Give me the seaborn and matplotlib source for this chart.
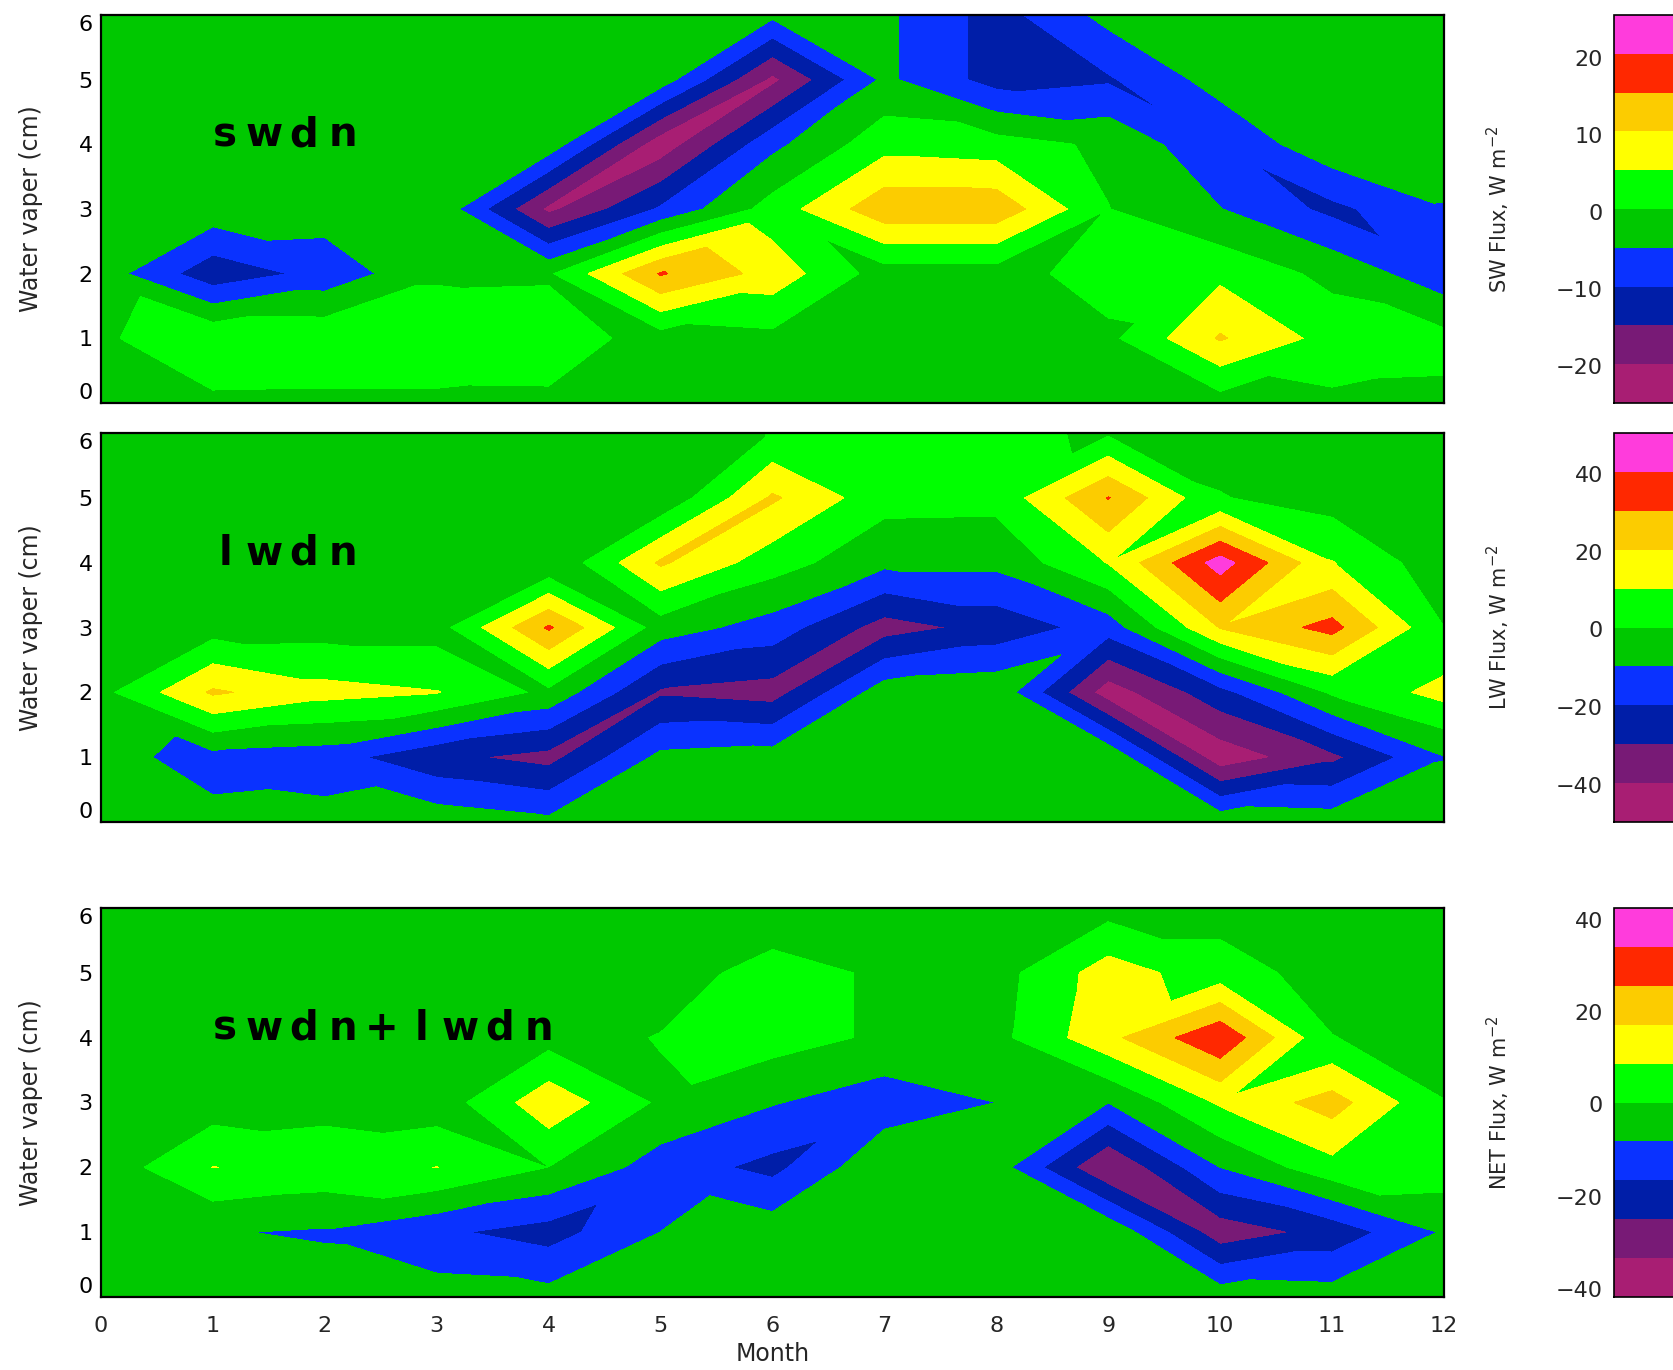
import numpy as np
import matplotlib
matplotlib.use("Agg")
import matplotlib.pyplot as plt
import matplotlib.tri as mtri
import seaborn as sns
from matplotlib.ticker import MultipleLocator

sns.set_style("white")
plt.rcParams["font.family"] = ["DejaVu Sans"]

# grid: month (columns) x column water vapour in cm (rows, bottom to top)
months = np.arange(0, 13)
vapor = np.arange(0, 7)

# shortwave down flux change, W m-2 (rows: vapour 0..6)
swdn_v0 = [-2, -0.7, -0.8, -0.8, -0.7, -2, -2, -2, -2, -2, -1.9, -0.6, -0.8]
swdn_v1 = [-0.5, 4.8, 4.5, 4.5, 3.5, -2, -1, -2, -2, -0.8, 11, 3.5, 2]
swdn_v2 = [-2, -13, -8, -0.5, -0.3, 16, 8.5, -2, -2, 3, 4.2, -1, -8]
swdn_v3 = [-2, -1.5, -2, -0.5, -21, -9, 2.5, 14, 14, 0.5, -4.5, -11, -5]
swdn_v4 = [-2, -2, -2, -2, -1.5, -23, -6, 3.5, 2.5, -0.5, -9, -1, -1.5]
swdn_v5 = [-2, -2, -2, -2, -2, -2, -21, -3.6, -11.8, -10.3, -2.5, -1.5, -1.5]
swdn_v6 = [-2, -2, -2, -2, -2, -2.5, -3.5, -3.6, -11.8, -3, -2, -1.5, -1]

# longwave down flux change, W m-2
lwdn_v0 = [-5, -7, -6, -3, -7, -3, -3, -3, -3, -3, -2.6, -4, -2]
lwdn_v1 = [-6.5, -13, -15, -27, -33, -7, -5, -3, -3, -1, -46, -32, -10]
lwdn_v2 = [-2.5, 22, 14, 11, -2, -31, -34, -4, -2, -45, -23, 2, 14]
lwdn_v3 = [-5, -4.2, -4, -4, 32, -4.5, -14, -34, -26, -15, 21, 34, 0.6]
lwdn_v4 = [-4, -4, -4, -4, -9, 22, 5, -7, -7, 11, 45, 11, -6]
lwdn_v5 = [-4, -4, -4, -4, -4, -8, 22, 4, 3.6, 31, 1, -4, -4]
lwdn_v6 = [-4, -4, -4, -4, -4, -6, 1, 4, 3, -1, -4, -4, -4]

# net (sw + lw) down flux change, W m-2
net_v0 = [-3, -3, -3.5, -4, -5, -3, -3, -3, -3, -3, -3, -4, -3]
net_v1 = [-3, -7.5, -9, -15, -20, -8, -3, -3, -3, -1, -30, -22, -7.1]
net_v2 = [-5, 9.0, 6, 8.95, 0.3, -12, -19, -1, -4, -33.6, -8, 6, 5]
net_v3 = [-3, -4.2, -2.8, -4.7, 14.5, -1, -7.5, -13, -8, -7.9, 10, 21, 0.6]
net_v4 = [-3, -3, -3, -3, -3, 0.8, 4, -1, -2, 15, 33, 0.6, -3]
net_v5 = [-3, -3, -3, -3, -3, -4, 4, -1, -3, 13, 4, -3, -3]
net_v6 = [-3, -3, -3, -3, -3, -3, -6, -3, -3, -3, -3, -3, -3]

# contour intervals of each colour bar
sw_levels = np.linspace(-24.8, 25.6, 11)
lw_levels = np.linspace(-49.5, 50.5, 11)
net_levels = np.linspace(-41.8, 42.6, 11)

sw_ticks = [-20, -10, 0, 10, 20]
lw_ticks = [-40, -20, 0, 20, 40]
net_ticks = [-40, -20, 0, 20, 40]

panel_names = ["swdn", "lwdn", "swdn+lwdn"]
cbar_titles = ["SW Flux, W m$^{-2}$", "LW Flux, W m$^{-2}$", "NET Flux, W m$^{-2}$"]

palette = sns.color_palette([
    "#a81e73",  # magenta
    "#781a76",  # purple
    "#001ea8",  # dark blue
    "#0a32ff",  # blue
    "#00c800",  # green
    "#00ff00",  # light green
    "#ffff00",  # yellow
    "#fccc00",  # orange
    "#ff2800",  # red
    "#ff3cdc",  # pink
])


def grid_triangulation(z):
    """Split every grid cell along the diagonal whose end values agree best."""
    nx = len(months)
    X, Y = np.meshgrid(months, vapor)
    tris = []
    for j in range(len(vapor) - 1):
        for i in range(nx - 1):
            ll, lr = j * nx + i, j * nx + i + 1
            ul, ur = (j + 1) * nx + i, (j + 1) * nx + i + 1
            if abs(z[j, i] - z[j + 1, i + 1]) <= abs(z[j, i + 1] - z[j + 1, i]):
                tris += [[ll, lr, ur], [ll, ur, ul]]
            else:
                tris += [[ll, lr, ul], [lr, ur, ul]]
    return mtri.Triangulation(X.ravel(), Y.ravel(), np.array(tris))


fields = [
    np.array([swdn_v0, swdn_v1, swdn_v2, swdn_v3, swdn_v4, swdn_v5, swdn_v6], float),
    np.array([lwdn_v0, lwdn_v1, lwdn_v2, lwdn_v3, lwdn_v4, lwdn_v5, lwdn_v6], float),
    np.array([net_v0, net_v1, net_v2, net_v3, net_v4, net_v5, net_v6], float),
]
level_sets = [sw_levels, lw_levels, net_levels]
tick_sets = [sw_ticks, lw_ticks, net_ticks]

W, H = 1673, 1370
fig = plt.figure(figsize=(W / 100, H / 100), dpi=100)
fig.patch.set_facecolor("white")

# (top, bottom) pixel rows of each panel
rows = [(15, 403), (433, 822), (908, 1297)]
ax_left, ax_right = 101, 1444
cb_left = 1614

for i, (field, levels, ticks) in enumerate(zip(fields, level_sets, tick_sets)):
    top, bot = rows[i]
    ax = fig.add_axes([ax_left / W, (H - bot) / H, (ax_right - ax_left) / W, (bot - top) / H])
    tri = grid_triangulation(field)
    cf = ax.tricontourf(tri, field.ravel(), levels=levels, colors=palette)
    ax.set_xlim(0, 12)
    ax.set_ylim(0, 6)

    for side in ["left", "right", "top", "bottom"]:
        ax.spines[side].set_visible(True)
        ax.spines[side].set_color("black")
        ax.spines[side].set_linewidth(1.6)
        ax.spines[side].set_zorder(5)

    ax.yaxis.set_minor_locator(MultipleLocator(0.5))
    ax.tick_params(axis="y", which="both", direction="in", length=5, width=1.3,
                   left=True, right=False, labelsize=16, pad=6, colors="black")
    ax.tick_params(axis="x", which="both", bottom=False, top=False, length=0)
    ax.set_xticks(months)
    ax.set_yticks(vapor)
    labs = ax.set_yticklabels([str(v) for v in vapor])
    labs[0].set_va("bottom")
    labs[-1].set_va("top")

    if i < 2:
        ax.set_xticklabels([])
    else:
        ax.set_xticklabels([str(m) for m in months], fontsize=16)
        ax.tick_params(axis="x", pad=14)
        ax.set_xlabel("Month", fontsize=17)
        ax.xaxis.set_label_coords(0.5, -0.115)
        ax.xaxis.label.set_va("top")

    ax.set_ylabel("Water vaper (cm)", fontsize=17)
    ax.yaxis.set_label_coords(-0.043, 0.5)

    # spaced-out panel title, one glyph at a time
    for k, ch in enumerate(panel_names[i]):
        ax.text(1.11 + 0.35 * k, 3.97, ch, ha="center", va="baseline",
                fontsize=29, fontweight="bold", color="black", zorder=6)

    # colour bar hanging off the right edge
    cax = fig.add_axes([cb_left / W, (H - bot) / H, 0.06, (bot - top) / H])
    cb = fig.colorbar(cf, cax=cax, ticks=ticks)
    cb.outline.set_edgecolor("black")
    cb.outline.set_linewidth(1.2)
    cax.yaxis.set_ticks_position("left")
    cax.yaxis.set_label_position("left")
    cax.tick_params(axis="y", length=0, labelsize=16, pad=8)
    cax.set_ylabel(cbar_titles[i], fontsize=15)
    cax.yaxis.set_label_coords(-1.02, 0.5)

fig.savefig("out.png", dpi=100, facecolor="white")
